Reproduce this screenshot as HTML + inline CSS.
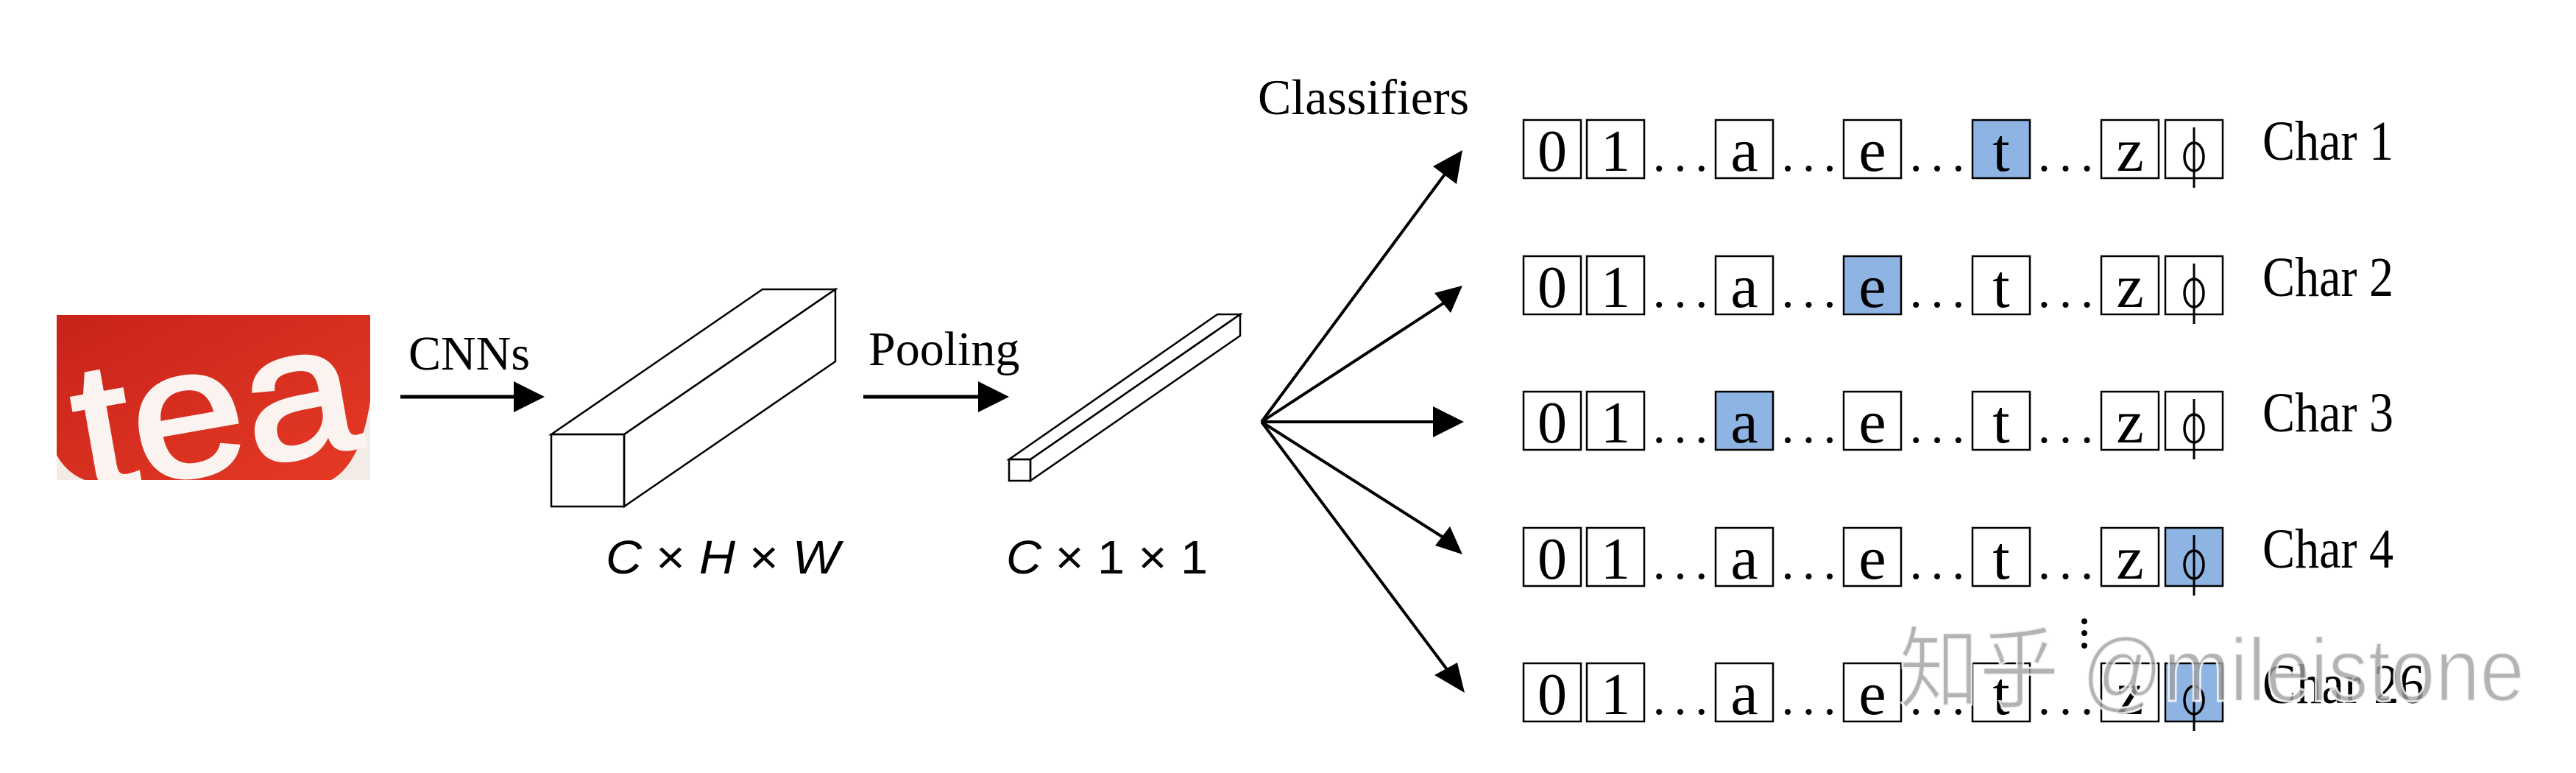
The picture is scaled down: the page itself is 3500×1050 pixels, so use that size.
<!DOCTYPE html>
<html><head><meta charset="utf-8"><style>
html,body{margin:0;padding:0;background:#fff;width:3500px;height:1050px;overflow:hidden}
svg{display:block}
</style></head><body>
<svg xmlns="http://www.w3.org/2000/svg" width="3500" height="1050" viewBox="0 0 3500 1050">
<defs>
<clipPath id="tc"><rect x="77" y="428" width="426" height="224"/></clipPath>
<linearGradient id="rg" x1="0" y1="0" x2="1" y2="1">
<stop offset="0" stop-color="#c8231a"/><stop offset="1" stop-color="#e63a25"/></linearGradient>
</defs>
<!-- tea image -->
<g clip-path="url(#tc)">
<rect x="77" y="428" width="426" height="224" fill="#f3ebe6"/>
<path d="M77,428 H503 V545 Q490,630 450,652 H115 Q90,642 77,618 Z" fill="url(#rg)"/>
<text x="100" y="640" transform="rotate(-10 290 560)" font-family="Liberation Sans, sans-serif" font-size="250" fill="#fbf3ef" stroke="#fbf3ef" stroke-width="5" textLength="385" lengthAdjust="spacingAndGlyphs">tea</text>
</g>
<g font-family="Liberation Serif, serif" fill="#000">
<text x="555" y="502" font-size="66">CNNs</text>
<text x="1180" y="496" font-size="66">Pooling</text>
<text x="1709" y="155" font-size="68">Classifiers</text>
</g>
<!-- arrows -->
<line x1="544" y1="539" x2="700" y2="539" stroke="#000" stroke-width="5"/>
<polygon points="698,518 740,539 698,560" fill="#000"/>
<line x1="1173" y1="539" x2="1330" y2="539" stroke="#000" stroke-width="5"/>
<polygon points="1329,518 1371,539 1329,560" fill="#000"/>
<!-- cuboids -->
<g fill="none" stroke="#000" stroke-width="2.5" stroke-linejoin="miter">
<rect x="749" y="590" width="99" height="98" fill="#fff"/>
<polygon points="749,590 1036,393 1135,393 848,590"/>
<polygon points="848,590 1135,393 1135,491 848,688"/>
<rect x="1371" y="624" width="29" height="29"/>
<polygon points="1371,624 1654,427 1685,427 1400,624"/>
<polygon points="1400,624 1685,427 1685,456 1400,653"/>
</g>
<g font-family="Liberation Sans, sans-serif" font-size="64" fill="#000">
<text x="823" y="779" textLength="318" lengthAdjust="spacingAndGlyphs"><tspan font-style="italic">C</tspan> × <tspan font-style="italic">H</tspan> × <tspan font-style="italic">W</tspan></text>
<text x="1367" y="779" textLength="274" lengthAdjust="spacingAndGlyphs"><tspan font-style="italic">C</tspan> × 1 × 1</text>
</g>
<!-- fan arrows -->
<g stroke="#000" stroke-width="4">
<line x1="1714" y1="573" x2="1968" y2="230"/>
<line x1="1714" y1="573" x2="1964" y2="410"/>
<line x1="1714" y1="573" x2="1950" y2="573"/>
<line x1="1714" y1="573" x2="1964" y2="732"/>
<line x1="1714" y1="573" x2="1968" y2="912"/>
</g>
<g fill="#000">
<polygon points="1987,204 1979,250 1947,226"/>
<polygon points="1987,388 1971,425 1949,398"/>
<polygon points="1989,573 1947,552 1947,594"/>
<polygon points="1987,753 1950,741 1970,715"/>
<polygon points="1990,941 1949,917 1980,900"/>
</g>
<g id="rows" font-family="Liberation Serif, serif" fill="#000"></g>
<!-- vertical ellipsis -->
<g fill="#000"><circle cx="2832" cy="844" r="4"/><circle cx="2832" cy="860" r="4"/><circle cx="2832" cy="877" r="4"/></g>
<script>
(function(){
var g=document.getElementById('rows');var ns='http://www.w3.org/2000/svg';
var tops=[163,348,532,717,901];
var xs=[2070,2156,2331,2505,2680,2855,2942];
var ch=['0','1','a','e','t','z'];
var hl=[4,3,2,6,6];
var dots=[[2235,2331],[2410,2505],[2584,2680],[2758,2855]];
function el(n,a,t){var e=document.createElementNS(ns,n);for(var k in a)e.setAttribute(k,a[k]);if(t)e.textContent=t;g.appendChild(e);return e;}
tops.forEach(function(y,r){
 xs.forEach(function(x,i){
  el('rect',{x:x,y:y,width:78,height:79,fill:(hl[r]==i?'#8eb4e3':'#fff'),stroke:'#000','stroke-width':2.5});
  if(i==6){
   el('ellipse',{cx:x+39,cy:y+50,rx:13,ry:19,fill:'none',stroke:'#000','stroke-width':3.5});
   el('line',{x1:x+39,y1:y+10,x2:x+39,y2:y+92,stroke:'#000','stroke-width':3});
  } else {
   el('text',{x:x+39,y:y+69,'text-anchor':'middle','font-size':(i<2?80:84)},ch[i]);
  }
 });
 dots.forEach(function(d){
  var w=d[1]-d[0];
  for(var k=0;k<3;k++) el('circle',{cx:d[0]+w*(0.2+0.3*k),cy:y+66,r:4});
 });
 el('text',{x:3074,y:y+54,'font-size':76,textLength:(r==4?220:178),lengthAdjust:'spacingAndGlyphs'},'Char '+(r==4?'26':(r+1)));
});
})();
</script>
<!-- watermark -->
<text x="2580" y="952" font-family="Liberation Sans, Noto Sans CJK SC, sans-serif" font-size="122" fill="#a0a0a0" fill-opacity="0.8" stroke="#fff" stroke-width="3" stroke-opacity="0.8" textLength="850" lengthAdjust="spacingAndGlyphs">知乎 @mileistone</text>
</svg>
</body></html>
